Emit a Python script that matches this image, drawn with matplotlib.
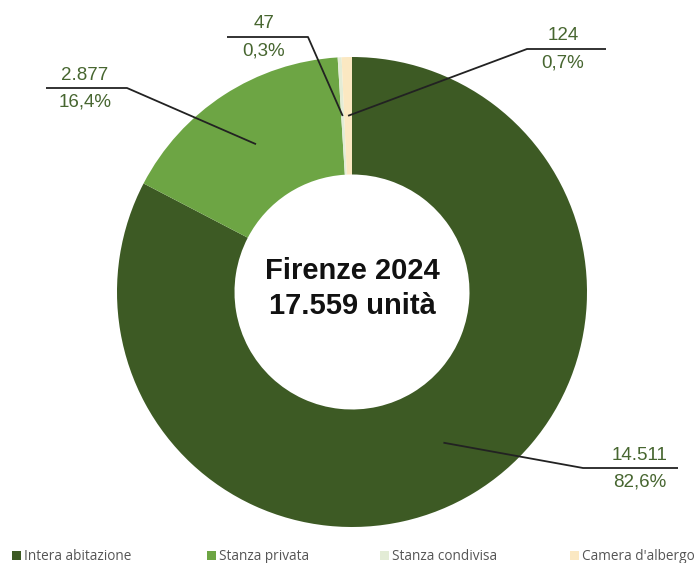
import numpy as np
import matplotlib
matplotlib.use("Agg")
import matplotlib.pyplot as plt
from matplotlib.patches import Rectangle

# Firenze 2024 - short-term rental listings by type
categories = ["Intera abitazione", "Stanza privata", "Stanza condivisa", "Camera d'albergo"]
values = [14511, 2877, 47, 124]
value_labels = ["14.511", "2.877", "47", "124"]
pct_labels = ["82,6%", "16,4%", "0,3%", "0,7%"]
colors = ["#3d5a24", "#6da544", "#e3ecd6", "#fbe8c2"]
title_lines = ["Firenze 2024", "17.559 unità"]

W, H = 699, 563
fig = plt.figure(figsize=(W / 100, H / 100), dpi=100)
ax = fig.add_axes([0, 0, 1, 1])

cx, cy, R = 352, H - 292, 235
wedges, _ = ax.pie(values, colors=colors, startangle=90, counterclock=False,
                   radius=R, center=(cx, cy),
                   wedgeprops=dict(width=R * 0.5, linewidth=0))
ax.set_xlim(0, W)
ax.set_ylim(0, H)
ax.set_aspect("equal")
ax.axis("off")

# centre caption
ax.text(cx, H - 271, title_lines[0], ha="center", va="center",
        fontsize=21, fontweight="bold", family="Liberation Sans", color="#111111")
ax.text(cx, H - 306, title_lines[1], ha="center", va="center",
        fontsize=21, fontweight="bold", family="Liberation Sans", color="#111111")

# leader lines: (elbow x, elbow y, far end x, text centre x), in pixels from top-left
leaders = [
    (583, 468, 678, 640),
    (127, 88, 46, 85),
    (308, 37, 227, 264),
    (527, 49, 606, 563),
]
label_color = "#476630"
r_anchor = R * 0.75
for w, (ex, ey, fx, tx), vl, pl in zip(wedges, leaders, value_labels, pct_labels):
    mid = np.deg2rad((w.theta1 + w.theta2) / 2)
    ax_pt = (cx + r_anchor * np.cos(mid), cy + r_anchor * np.sin(mid))
    ax.plot([ax_pt[0], ex, fx], [ax_pt[1], H - ey, H - ey],
            color="#222222", lw=1.3, solid_capstyle="butt")
    ax.text(tx, H - ey + 13, vl, ha="center", va="center",
            fontsize=13.5, family="Liberation Sans", fontweight="medium",
            color=label_color)
    ax.text(tx, H - ey - 14, pl, ha="center", va="center",
            fontsize=13.5, family="Liberation Sans", fontweight="medium",
            color=label_color)

# legend row
legend_x = [12, 207, 380, 570]
for x, c, name in zip(legend_x, colors, categories):
    ax.add_patch(Rectangle((x, H - 560), 9, 9, facecolor=c, edgecolor="none"))
    ax.text(x + 12, H - 560, name, ha="left", va="baseline",
            fontsize=9.8, family="Open Sans", color="#555555")

fig.savefig("out.png", dpi=100)
